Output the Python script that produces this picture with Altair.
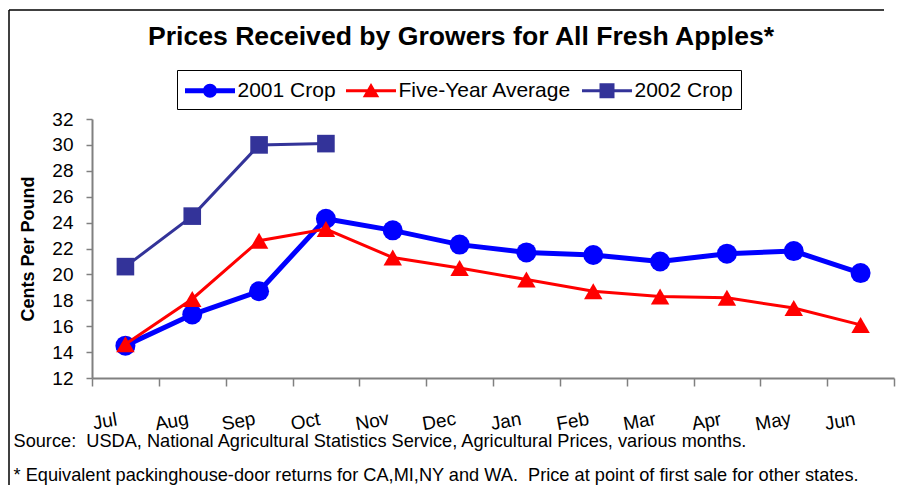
import altair as alt
import pandas as pd

months = ["Jul", "Aug", "Sep", "Oct", "Nov", "Dec", "Jan", "Feb", "Mar", "Apr", "May", "Jun"]
crop_2001 = [14.5, 16.9, 18.7, 24.3, 23.4, 22.3, 21.7, 21.5, 21.0, 21.6, 21.8, 20.1]
five_year_avg = [14.6, 18.1, 22.6, 23.5, 21.3, 20.5, 19.6, 18.7, 18.3, 18.2, 17.4, 16.1]
crop_2002 = [20.6, 24.5, 30.0, 30.1]

series_names = ["2001 Crop", "Five-Year Average", "2002 Crop"]
series_colors = ["#0000FF", "#FF0000", "#333399"]
y_ticks = [12, 14, 16, 18, 20, 22, 24, 26, 28, 30, 32]

title_text = "Prices Received by Growers for All Fresh Apples*"
y_title = "Cents Per Pound"
footnotes = [
    "Source:\u00a0 USDA, National Agricultural Statistics Service, Agricultural Prices, various months.",
    "* Equivalent packinghouse-door returns for CA,MI,NY and WA.\u00a0 Price at point of first sale for other states.",
]

rows = []
for name, vals in zip(series_names, [crop_2001, five_year_avg, crop_2002]):
    for m, v in zip(months, vals):
        rows.append({"series": name, "month": m, "value": v})
df = pd.DataFrame(rows)

W, H = 802, 259
PAD = {"left": 84, "top": 111, "right": 2, "bottom": 109}
FONT = "Liberation Sans"
AXIS_GRAY = "#808080"

x_enc = alt.X(
    "month:N",
    sort=months,
    bandPosition=0.5,
    scale=alt.Scale(type="band", paddingInner=0, paddingOuter=0),
    axis=alt.Axis(
        title=footnotes,
        titleFont=FONT,
        titleFontSize=18.2,
        titleFontWeight="normal",
        titleColor="black",
        titleAlign="left",
        titleAnchor="start",
        titleBaseline="alphabetic",
        titleX=-79,
        titleY=68,
        titleLineHeight=34,
        titleLimit=1000,
        tickBand="extent",
        tickSize=8,
        tickColor=AXIS_GRAY,
        tickWidth=1.5,
        domainColor=AXIS_GRAY,
        domainWidth=2,
        labelFont=FONT,
        labelFontSize=19,
        labelColor="black",
        labelAngle=350,
        labelAlign="center",
        labelBaseline="middle",
        labelPadding=35,
        labelOffset=-21,
        grid=False,
    ),
)
y_enc = alt.Y(
    "value:Q",
    scale=alt.Scale(domain=[12, 32], nice=False, zero=False),
    axis=alt.Axis(
        values=y_ticks,
        title=y_title,
        titleFont=FONT,
        titleFontSize=18,
        titleFontWeight="bold",
        titleColor="black",
        titleAngle=270,
        titleAlign="center",
        titleBaseline="middle",
        titleX=-64,
        titleY=H / 2,
        tickSize=6,
        tickColor=AXIS_GRAY,
        tickWidth=1.5,
        domainColor=AXIS_GRAY,
        domainWidth=2,
        labelFont=FONT,
        labelFontSize=19,
        labelColor="black",
        labelPadding=13,
        grid=False,
    ),
)

base = alt.Chart(df).encode(x=x_enc, y=y_enc)

specs = [
    ("2001 Crop", "#0000FF", 5, "circle", 400),
    ("Five-Year Average", "#FF0000", 3, "triangle-up", 340),
    ("2002 Crop", "#333399", 3, "square", 310),
]

layers = []
# outer chart frame (top and left edges; the rest lies beyond the picture)
frame_src = alt.Chart(pd.DataFrame({"f": [0]}))
frame_left = frame_src.mark_rule(color="black", strokeWidth=1.5).encode(
    x=alt.value(-83), y=alt.value(-109), y2=alt.value(H + PAD["bottom"] - 2)
)
frame_top = frame_src.mark_rule(color="black", strokeWidth=1.5).encode(
    x=alt.value(-83), x2=alt.value(W - 10), y=alt.value(-109)
)
layers += [frame_left, frame_top]

for name, color, sw, shape, size in specs:
    sub = base.transform_filter(alt.datum.series == name)
    layers.append(sub.mark_line(color=color, strokeWidth=sw))
    layers.append(sub.mark_point(filled=True, shape=shape, size=size, color=color, opacity=1))

legend_paths = [
    "M-2,-0.2H2V0.2H-2Z M0.56,0 A0.56,0.56 0 1,1 -0.56,0 A0.56,0.56 0 1,1 0.56,0Z",
    "M-2,-0.12H2V0.12H-2Z M0,-0.62 L0.66,0.52 L-0.66,0.52Z",
    "M-2,-0.12H2V0.12H-2Z M-0.6,-0.6H0.6V0.6H-0.6Z",
]

leg = alt.Legend(
    title=None,
    orient="none",
    legendX=85,
    legendY=-49,
    direction="horizontal",
    labelFont=FONT,
    labelFontSize=21,
    labelColor="black",
    labelLimit=400,
    symbolSize=625,
    symbolStrokeWidth=0,
    symbolOffset=12.5,
    labelOffset=15,
    columnPadding=10,
    padding=8,
    strokeColor="black",
    fillColor="white",
)

legend_layer = base.transform_filter("false").mark_point(filled=True, opacity=1).encode(
    color=alt.Color("series:N", scale=alt.Scale(domain=series_names, range=series_colors), legend=leg),
    shape=alt.Shape("series:N", scale=alt.Scale(domain=series_names, range=legend_paths), legend=leg),
)
layers.append(legend_layer)

chart = alt.layer(*layers).properties(
    width=W,
    height=H,
    autosize="none",
    padding=PAD,
    title=alt.TitleParams(
        text=title_text,
        font=FONT,
        fontSize=26.6,
        fontWeight="bold",
        color="black",
        anchor="middle",
        dx=-32,
        offset=0,
        dy=41,
    ),
).configure_view(strokeWidth=0)

chart.save("out.html", embed_options={"renderer": "svg", "actions": False})
